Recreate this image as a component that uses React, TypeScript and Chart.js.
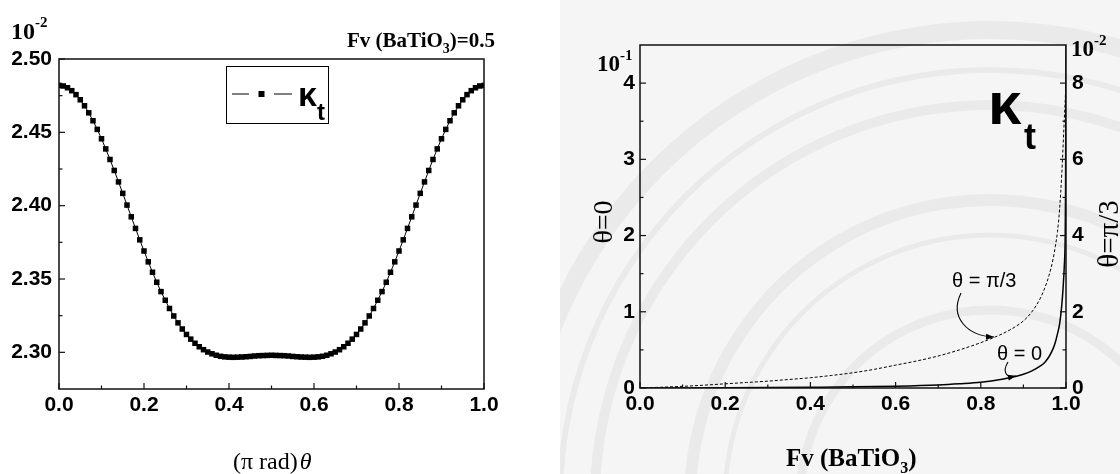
import React, { useEffect, useRef } from "react";
import { Chart, registerables } from "chart.js";
Chart.register(...registerables);

const SERIF = '"Liberation Serif", "Times New Roman", Times, serif';
const SANS = '"Liberation Sans", Arial, Helvetica, sans-serif';

// ---------- Left panel: kappa_t vs theta (Fv = 0.5) ----------
const thetaPi = [
  0.0, 0.01, 0.02, 0.03, 0.04, 0.05, 0.06, 0.07, 0.08, 0.09,
  0.1, 0.11, 0.12, 0.13, 0.14, 0.15, 0.16, 0.17, 0.18, 0.19,
  0.2, 0.21, 0.22, 0.23, 0.24, 0.25, 0.26, 0.27, 0.28, 0.29,
  0.3, 0.31, 0.32, 0.33, 0.34, 0.35, 0.36, 0.37, 0.38, 0.39,
  0.4, 0.41, 0.42, 0.43, 0.44, 0.45, 0.46, 0.47, 0.48, 0.49,
  0.5, 0.51, 0.52, 0.53, 0.54, 0.55, 0.56, 0.57, 0.58, 0.59,
  0.6, 0.61, 0.62, 0.63, 0.64, 0.65, 0.66, 0.67, 0.68, 0.69,
  0.7, 0.71, 0.72, 0.73, 0.74, 0.75, 0.76, 0.77, 0.78, 0.79,
  0.8, 0.81, 0.82, 0.83, 0.84, 0.85, 0.86, 0.87, 0.88, 0.89,
  0.9, 0.91, 0.92, 0.93, 0.94, 0.95, 0.96, 0.97, 0.98, 0.99,
  1.0,
];
const kappaT = [
  2.4820, 2.4816, 2.4804, 2.4784, 2.4757, 2.4722, 2.4681, 2.4633, 2.4579, 2.4520,
  2.4456, 2.4387, 2.4315, 2.4240, 2.4162, 2.4084, 2.4004, 2.3924, 2.3845, 2.3767,
  2.3691, 2.3617, 2.3546, 2.3478, 2.3414, 2.3355, 2.3299, 2.3248, 2.3201, 2.3159,
  2.3122, 2.3090, 2.3062, 2.3038, 2.3018, 2.3002, 2.2990, 2.2980, 2.2973, 2.2969,
  2.2967, 2.2966, 2.2967, 2.2968, 2.2970, 2.2972, 2.2975, 2.2977, 2.2978, 2.2979,
  2.2980, 2.2979, 2.2978, 2.2977, 2.2975, 2.2972, 2.2970, 2.2968, 2.2967, 2.2966,
  2.2967, 2.2969, 2.2973, 2.2980, 2.2990, 2.3002, 2.3018, 2.3038, 2.3062, 2.3090,
  2.3122, 2.3159, 2.3201, 2.3248, 2.3299, 2.3355, 2.3414, 2.3478, 2.3546, 2.3617,
  2.3691, 2.3767, 2.3845, 2.3924, 2.4004, 2.4084, 2.4162, 2.4240, 2.4315, 2.4387,
  2.4456, 2.4520, 2.4579, 2.4633, 2.4681, 2.4722, 2.4757, 2.4784, 2.4804, 2.4816,
  2.4820,
];
const leftXTicks = [0.0, 0.2, 0.4, 0.6, 0.8, 1.0];
const leftYTicks = [2.3, 2.35, 2.4, 2.45, 2.5];

// ---------- Right panel: kappa_t vs Fv(BaTiO3) ----------
const fvTheta0 = [
  0, 0.1, 0.2, 0.3, 0.4, 0.5, 0.6, 0.7, 0.75, 0.8, 0.85, 0.88, 0.9, 0.92,
  0.94, 0.95, 0.96, 0.97, 0.975, 0.98, 0.985, 0.99, 0.993, 0.996, 0.998, 0.999, 1.0,
];
// units of 10^-1 (left axis)
const kappaTheta0 = [
  0, 0.001, 0.003, 0.006, 0.01, 0.015, 0.024, 0.04, 0.055, 0.075, 0.115, 0.15, 0.18, 0.225,
  0.29, 0.335, 0.41, 0.52, 0.6, 0.71, 0.84, 1.08, 1.3, 1.6, 1.95, 2.6, 4.5,
];
const fvThetaPi3 = [
  0, 0.05, 0.1, 0.15, 0.2, 0.25, 0.3, 0.35, 0.4, 0.45, 0.5, 0.55, 0.6, 0.65, 0.7,
  0.75, 0.8, 0.85, 0.88, 0.9, 0.92, 0.94, 0.95, 0.96, 0.97, 0.975, 0.98, 0.985, 0.99, 0.995, 1.0,
];
// units of 10^-2 (right axis)
const kappaThetaPi3 = [
  0, 0.02, 0.044, 0.074, 0.11, 0.144, 0.18, 0.224, 0.27, 0.33, 0.4, 0.49, 0.6, 0.71, 0.84,
  1.0, 1.19, 1.42, 1.6, 1.76, 2.0, 2.36, 2.62, 2.95, 3.4, 3.72, 4.1, 4.7, 5.6, 6.8, 8.0,
];
const rightXTicks = [0.0, 0.2, 0.4, 0.6, 0.8, 1.0];
const rightYLeftTicks = [0, 1, 2, 3, 4];
const rightYRightTicks = [0, 2, 4, 6, 8];

// ---------- helpers ----------
function minorsOf(majors: number[]) {
  const out: number[] = [];
  for (let i = 0; i < majors.length - 1; i++) out.push((majors[i] + majors[i + 1]) / 2);
  return out;
}

function tickFont() {
  return { family: SANS, size: 21, weight: "bold" as const };
}

function drawFrameAndTicks(
  chart: any,
  xKey: string,
  xMajors: number[],
  yLeftKey: string,
  yLeftMajors: number[],
  yRightKey: string | null,
  yRightMajors: number[] | null
) {
  const { ctx, chartArea: a, scales } = chart;
  ctx.save();
  ctx.strokeStyle = "#111";
  ctx.lineWidth = 1.5;
  ctx.strokeRect(a.left, a.top, a.right - a.left, a.bottom - a.top);
  ctx.lineWidth = 1.2;
  const xs = scales[xKey];
  const seg = (x1: number, y1: number, x2: number, y2: number) => {
    ctx.beginPath();
    ctx.moveTo(x1, y1);
    ctx.lineTo(x2, y2);
    ctx.stroke();
  };
  xMajors.forEach((v) => {
    const p = xs.getPixelForValue(v);
    seg(p, a.bottom, p, a.bottom - 6);
  });
  minorsOf(xMajors).forEach((v) => {
    const p = xs.getPixelForValue(v);
    seg(p, a.bottom, p, a.bottom - 3.5);
  });
  const yl = scales[yLeftKey];
  yLeftMajors.forEach((v) => {
    const p = yl.getPixelForValue(v);
    seg(a.left, p, a.left + 6, p);
  });
  minorsOf(yLeftMajors).forEach((v) => {
    const p = yl.getPixelForValue(v);
    seg(a.left, p, a.left + 3.5, p);
  });
  if (yRightKey && yRightMajors) {
    const yr = scales[yRightKey];
    yRightMajors.forEach((v) => {
      const p = yr.getPixelForValue(v);
      seg(a.right, p, a.right - 6, p);
    });
    minorsOf(yRightMajors).forEach((v) => {
      const p = yr.getPixelForValue(v);
      seg(a.right, p, a.right - 3.5, p);
    });
  }
  ctx.restore();
}

function txt(ctx: CanvasRenderingContext2D, s: string, x: number, y: number, font: string, align: CanvasTextAlign = "left") {
  ctx.font = font;
  ctx.textAlign = align;
  ctx.textBaseline = "alphabetic";
  ctx.fillText(s, x, y);
  return ctx.measureText(s).width;
}

function powerLabel(ctx: CanvasRenderingContext2D, exp: string, x: number, y: number, size = 22) {
  const w = txt(ctx, "10", x, y, `bold ${size}px ${SERIF}`);
  txt(ctx, exp, x + w, y - size * 0.5, `bold ${Math.round(size * 0.64)}px ${SERIF}`);
}

function arrow(ctx: CanvasRenderingContext2D, pts: number[]) {
  const [x0, y0, c1x, c1y, c2x, c2y, x1, y1] = pts;
  ctx.beginPath();
  ctx.moveTo(x0, y0);
  ctx.bezierCurveTo(c1x, c1y, c2x, c2y, x1, y1);
  ctx.stroke();
  const ang = Math.atan2(y1 - c2y, x1 - c2x);
  const L = 8;
  const W = 3;
  ctx.beginPath();
  ctx.moveTo(x1, y1);
  ctx.lineTo(x1 - L * Math.cos(ang) + W * Math.sin(ang), y1 - L * Math.sin(ang) - W * Math.cos(ang));
  ctx.lineTo(x1 - L * Math.cos(ang) - W * Math.sin(ang), y1 - L * Math.sin(ang) + W * Math.cos(ang));
  ctx.closePath();
  ctx.fill();
}

function axisCommon(ticksArr: number[], digits: number, pad: number) {
  return {
    grid: { display: false, drawTicks: false },
    border: { display: false },
    ticks: {
      color: "#000",
      font: tickFont(),
      padding: pad,
      autoSkip: false,
      maxRotation: 0,
      includeBounds: false,
      callback: (v: any) => Number(v).toFixed(digits),
    },
    afterBuildTicks: (s: any) => {
      s.ticks = ticksArr.map((v) => ({ value: v }));
    },
  };
}

// ---------- Left chart ----------
const leftPlugin = {
  id: "leftDecor",
  afterDraw(chart: any) {
    drawFrameAndTicks(chart, "x", leftXTicks, "y", leftYTicks, null, null);
    const ctx: CanvasRenderingContext2D = chart.ctx;
    ctx.save();
    ctx.fillStyle = "#000";
    ctx.strokeStyle = "#000";
    // exponent
    powerLabel(ctx, "-2", 11, 39, 24);
    // title
    let x = 347;
    x += txt(ctx, "Fv (BaTiO", x, 47, `bold 21px ${SERIF}`);
    x += txt(ctx, "3", x, 53, `bold 14px ${SERIF}`);
    txt(ctx, ")=0.5", x, 47, `bold 21px ${SERIF}`);
    // x-axis title
    const w = txt(ctx, "(\u03C0 rad)", 233, 469, `24px ${SERIF}`);
    txt(ctx, "\u03B8", 233 + w + 2, 469, `italic 24px ${SERIF}`);
    // legend
    ctx.lineWidth = 1;
    ctx.strokeRect(226.5, 66.5, 102, 57);
    ctx.beginPath();
    ctx.moveTo(232, 94);
    ctx.lineTo(249, 94);
    ctx.moveTo(274, 94);
    ctx.lineTo(292, 94);
    ctx.stroke();
    ctx.fillRect(258.5, 91, 6, 6);
    txt(ctx, "\u03BA", 298, 106, `bold 34px ${SANS}`);
    txt(ctx, "t", 317, 120, `bold 24px ${SANS}`);
    ctx.restore();
  },
};

function LeftChart() {
  const ref = useRef<HTMLCanvasElement>(null);
  useEffect(() => {
    if (!ref.current) return;
    const chart = new Chart(ref.current, {
      type: "line",
      data: {
        datasets: [
          {
            data: thetaPi.map((t, i) => ({ x: t, y: kappaT[i] })),
            borderColor: "#000",
            borderWidth: 1,
            backgroundColor: "#000",
            pointStyle: "rect",
            pointRadius: 3.9,
            pointBorderWidth: 0,
            pointBackgroundColor: "#000",
            tension: 0,
          },
        ],
      },
      options: {
        animation: false,
        responsive: false,
        devicePixelRatio: 1,
        layout: { padding: { top: 59, right: 76, left: 0, bottom: 0 } },
        plugins: { legend: { display: false }, tooltip: { enabled: false } },
        scales: {
          x: {
            type: "linear",
            min: 0,
            max: 1,
            ...axisCommon(leftXTicks, 1, 4),
            afterFit: (s: any) => {
              s.height = 85;
            },
          },
          y: {
            type: "linear",
            min: 2.275,
            max: 2.5,
            ...axisCommon(leftYTicks, 2, 7),
            afterFit: (s: any) => {
              s.width = 59;
            },
          },
        },
      } as any,
      plugins: [leftPlugin],
    });
    return () => chart.destroy();
  }, []);
  return <canvas ref={ref} width={560} height={474} style={{ position: "absolute", left: 0, top: 0, width: 560, height: 474 }} />;
}

// ---------- Right chart ----------
const rightPlugin = {
  id: "rightDecor",
  beforeDraw(chart: any) {
    const ctx: CanvasRenderingContext2D = chart.ctx;
    ctx.save();
    ctx.fillStyle = "#f5f5f5";
    ctx.fillRect(0, 0, 560, 474);
    ctx.strokeStyle = "rgba(0,0,0,0.045)";
    const rings: number[][] = [
      [470, 18],
      [430, 6],
      [395, 10],
      [300, 12],
      [265, 5],
      [190, 9],
    ];
    rings.forEach(([r, lw]) => {
      ctx.lineWidth = lw;
      ctx.beginPath();
      ctx.arc(430, 500, r, Math.PI * 0.95, Math.PI * 1.95);
      ctx.stroke();
    });
    ctx.restore();
  },
  afterDraw(chart: any) {
    drawFrameAndTicks(chart, "x", rightXTicks, "yL", rightYLeftTicks, "yR", rightYRightTicks);
    const ctx: CanvasRenderingContext2D = chart.ctx;
    ctx.save();
    ctx.fillStyle = "#000";
    ctx.strokeStyle = "#000";
    powerLabel(ctx, "-1", 37, 71, 23);
    powerLabel(ctx, "-2", 511, 56, 23);
    // rotated axis titles
    ctx.save();
    ctx.translate(52, 222);
    ctx.rotate(-Math.PI / 2);
    txt(ctx, "\u03B8=0", 0, 0, `28px ${SERIF}`, "center");
    ctx.restore();
    ctx.save();
    ctx.translate(558, 234);
    ctx.rotate(-Math.PI / 2);
    txt(ctx, "\u03B8=\u03C0/3", 0, 0, `29px ${SERIF}`, "center");
    ctx.restore();
    // x title
    let x = 226;
    x += txt(ctx, "Fv (BaTiO", x, 466, `bold 25px ${SERIF}`);
    x += txt(ctx, "3", x, 473, `bold 16px ${SERIF}`);
    txt(ctx, ")", x, 466, `bold 25px ${SERIF}`);
    // kappa_t
    txt(ctx, "\u03BA", 428, 124, `bold 60px ${SANS}`);
    txt(ctx, "t", 464, 149, `bold 36px ${SANS}`);
    // curve labels
    txt(ctx, "\u03B8 = \u03C0/3", 392, 287, `20px ${SANS}`);
    txt(ctx, "\u03B8 = 0", 437, 360, `20px ${SANS}`);
    ctx.lineWidth = 1.1;
    arrow(ctx, [401, 293, 389, 318, 408, 336, 434, 337]);
    arrow(ctx, [448, 362, 442, 372, 446, 378, 456, 376]);
    ctx.restore();
  },
};

function RightChart() {
  const ref = useRef<HTMLCanvasElement>(null);
  useEffect(() => {
    if (!ref.current) return;
    const chart = new Chart(ref.current, {
      type: "line",
      data: {
        datasets: [
          {
            data: fvTheta0.map((f, i) => ({ x: f, y: kappaTheta0[i] })),
            yAxisID: "yL",
            borderColor: "#000",
            borderWidth: 1.5,
            pointRadius: 0,
            cubicInterpolationMode: "monotone",
          },
          {
            data: fvThetaPi3.map((f, i) => ({ x: f, y: kappaThetaPi3[i] })),
            yAxisID: "yR",
            borderColor: "#000",
            borderWidth: 1,
            borderDash: [3, 2],
            pointRadius: 0,
            cubicInterpolationMode: "monotone",
          },
        ],
      },
      options: {
        animation: false,
        responsive: false,
        devicePixelRatio: 1,
        layout: { padding: { top: 45, right: 0, left: 0, bottom: 0 } },
        plugins: { legend: { display: false }, tooltip: { enabled: false } },
        scales: {
          x: {
            type: "linear",
            min: 0,
            max: 1,
            ...axisCommon(rightXTicks, 1, 4),
            afterFit: (s: any) => {
              s.height = 86;
            },
          },
          yL: {
            type: "linear",
            position: "left",
            min: 0,
            max: 4.5,
            ...axisCommon(rightYLeftTicks, 0, 5),
            afterFit: (s: any) => {
              s.width = 80;
            },
          },
          yR: {
            type: "linear",
            position: "right",
            min: 0,
            max: 9,
            ...axisCommon(rightYRightTicks, 0, 6),
            afterFit: (s: any) => {
              s.width = 54;
            },
          },
        },
      } as any,
      plugins: [rightPlugin],
    });
    return () => chart.destroy();
  }, []);
  return <canvas ref={ref} width={560} height={474} style={{ position: "absolute", left: 560, top: 0, width: 560, height: 474 }} />;
}

export default function App() {
  return (
    <div style={{ position: "absolute", left: 0, top: 0, width: 1120, height: 474, background: "#fff", overflow: "hidden" }}>
      <LeftChart />
      <RightChart />
    </div>
  );
}
